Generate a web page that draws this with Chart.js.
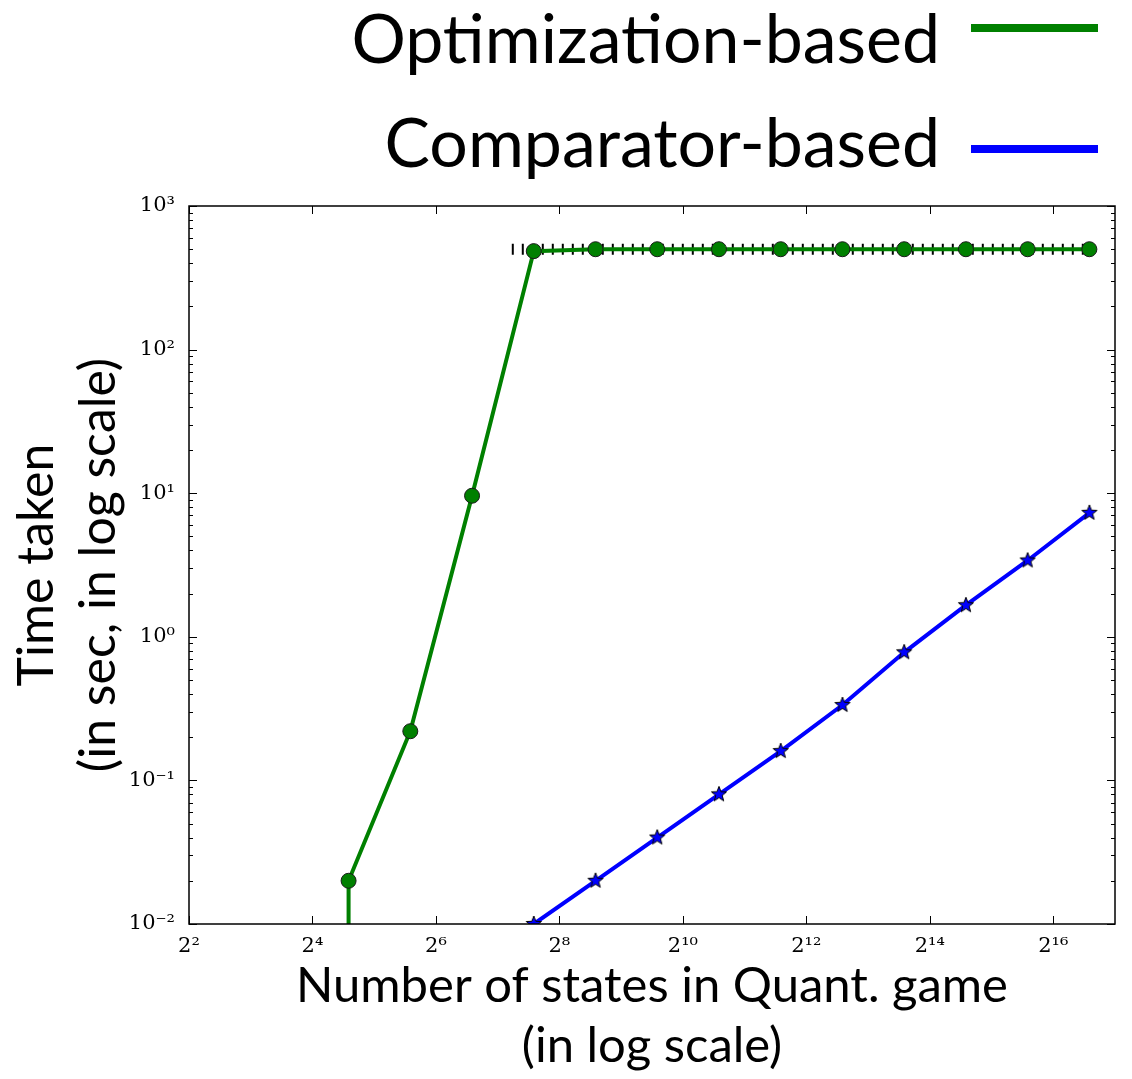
<!DOCTYPE html>
<html>
<head>
<meta charset="utf-8">
<script src="https://cdn.jsdelivr.net/npm/chart.js@4.4.1/dist/chart.umd.min.js"></script>
<style>
  html, body { margin: 0; padding: 0; background: #fff; }
  #wrap { position: relative; width: 1132px; height: 1079px; overflow: hidden; }
  #chart { position: absolute; left: 0; top: 0; }
  .leg { position: absolute; right: 192px; font-family: Lato, sans-serif; font-size: 68px; line-height: 68px; color: #000; white-space: nowrap; }
  .swatch { position: absolute; left: 971px; width: 127px; height: 8px; }
</style>
</head>
<body>
<div id="wrap">
  <canvas id="chart" width="1132" height="1079"></canvas>
  <div class="leg" style="top:3px">Optimization-based</div>
  <div class="swatch" style="top:24px;background:#008000"></div>
  <div class="leg" style="top:107px">Comparator-based</div>
  <div class="swatch" style="top:145px;background:#0000ff"></div>
</div>
<script>
// data
const optStates = [24, 24, 48, 96, 192, 384, 768, 1536, 3072, 6144, 12288, 24576, 49152, 98304];
const optTimes = [0.001, 0.02, 0.22, 9.6, 485, 500, 500, 500, 500, 500, 500, 500, 500, 500];
const compStates = [192, 384, 768, 1536, 3072, 6144, 12288, 24576, 49152, 98304];
const compTimes = [0.01, 0.02, 0.04, 0.08, 0.16, 0.335, 0.78, 1.66, 3.4, 7.3];
// black dashed timeout band behind the green line
const timeoutStates = [150, 98304];
const timeoutTimes = [500, 500];

const xTicks = [4, 16, 64, 256, 1024, 4096, 16384, 65536];
const xTickLabels = ["2²", "2⁴", "2⁶", "2⁸", "2¹⁰", "2¹²", "2¹⁴", "2¹⁶"];
const yTicks = [0.01, 0.1, 1, 10, 100, 1000];
const yTickLabels = ["10⁻²", "10⁻¹", "10⁰", "10¹", "10²", "10³"];
const yMinorSteps = [2, 3, 4, 5, 6, 7, 8, 9];

function toPoints(xs, ys) {
  return xs.map((v, i) => ({ x: v, y: ys[i] }));
}

// filled 5-point star marker like matplotlib's '*'
function makeStar(r, fill) {
  const c = document.createElement("canvas");
  const s = Math.ceil(r * 2 + 4);
  c.width = s;
  c.height = s;
  const g = c.getContext("2d");
  g.beginPath();
  for (let i = 0; i < 10; i++) {
    const rr = i % 2 ? r * 0.42 : r;
    const a = -Math.PI / 2 + i * Math.PI / 5;
    g.lineTo(s / 2 + rr * Math.cos(a), s / 2 + rr * Math.sin(a));
  }
  g.closePath();
  g.fillStyle = fill;
  g.fill();
  g.strokeStyle = "#000";
  g.lineWidth = 1;
  g.stroke();
  return c;
}

// inward ticks on all four sides + the axes frame
const framePlugin = {
  id: "frame",
  afterDraw(chart) {
    const { ctx, chartArea: a, scales } = chart;
    const x = scales.x, y = scales.y;
    ctx.save();
    ctx.strokeStyle = "#000";
    ctx.lineWidth = 1;
    const seg = (x1, y1, x2, y2) => {
      ctx.beginPath();
      ctx.moveTo(x1, y1);
      ctx.lineTo(x2, y2);
      ctx.stroke();
    };
    x.ticks.forEach(t => {
      const px = Math.round(x.getPixelForValue(t.value)) + 0.5;
      seg(px, a.bottom, px, a.bottom - 8);
      seg(px, a.top, px, a.top + 8);
    });
    y.ticks.forEach(t => {
      const major = yTicks.includes(t.value);
      const len = major ? 8 : 4;
      const py = Math.round(y.getPixelForValue(t.value)) + 0.5;
      seg(a.left, py, a.left + len, py);
      seg(a.right, py, a.right - len, py);
    });
    ctx.lineWidth = 1.5;
    ctx.strokeRect(a.left, a.top, a.right - a.left, a.bottom - a.top);
    ctx.restore();
  }
};

const tickFont = { family: "'DejaVu Serif', serif", size: 21 };

new Chart(document.getElementById("chart"), {
  type: "line",
  data: {
    datasets: [
      {
        label: "Optimization-based",
        data: toPoints(optStates, optTimes),
        borderColor: "#008000",
        backgroundColor: "#008000",
        borderWidth: 4,
        pointRadius: optTimes.map((v, i) => (i === 0 ? 0 : 7.5)),
        pointBorderColor: "#1a1a1a",
        pointBorderWidth: 1,
        tension: 0,
        order: 1
      },
      {
        label: "Comparator-based",
        data: toPoints(compStates, compTimes),
        borderColor: "#0000ff",
        backgroundColor: "#0000ff",
        borderWidth: 4,
        pointStyle: makeStar(8, "#0000ff"),
        tension: 0,
        order: 2
      },
      {
        label: "timeout",
        data: toPoints(timeoutStates, timeoutTimes),
        borderColor: "#000",
        borderWidth: 11,
        borderDash: [2, 8],
        borderCapStyle: "butt",
        pointRadius: 0,
        order: 5
      }
    ]
  },
  options: {
    responsive: false,
    animation: false,
    layout: { padding: { top: 206, right: 17, left: 0, bottom: 0 } },
    plugins: {
      legend: { display: false },
      tooltip: { enabled: false }
    },
    scales: {
      x: {
        type: "logarithmic",
        min: 4,
        max: 131072,
        afterFit: s => { s.height = 155; },
        afterBuildTicks: s => { s.ticks = xTicks.map(v => ({ value: v })); },
        grid: { display: false },
        border: { display: false },
        ticks: {
          autoSkip: false,
          maxRotation: 0,
          padding: 2,
          color: "#000",
          font: tickFont,
          callback: v => {
            const i = xTicks.indexOf(v);
            return i < 0 ? "" : xTickLabels[i];
          }
        },
        title: {
          display: true,
          text: ["Number of states in Quant. game", "(in log scale)"],
          color: "#000",
          font: { family: "Lato, sans-serif", size: 49, lineHeight: 1.24 },
          padding: { top: 0, bottom: 2 }
        }
      },
      y: {
        type: "logarithmic",
        min: 0.01,
        max: 1000,
        afterFit: s => { s.width = 189; },
        afterBuildTicks: s => {
          const list = [];
          yTicks.forEach((v, i) => {
            list.push({ value: v });
            if (i < yTicks.length - 1) yMinorSteps.forEach(m => list.push({ value: v * m }));
          });
          s.ticks = list;
        },
        grid: { display: false },
        border: { display: false },
        ticks: {
          autoSkip: false,
          padding: 6,
          color: "#000",
          font: tickFont,
          callback: v => {
            const i = yTicks.indexOf(v);
            return i < 0 ? "" : yTickLabels[i];
          }
        },
        title: {
          display: true,
          text: ["Time taken", "(in sec, in log scale)"],
          color: "#000",
          font: { family: "Lato, sans-serif", size: 50, lineHeight: 1.24 },
          padding: { top: 6, bottom: 0 }
        }
      }
    }
  },
  plugins: [framePlugin]
});
</script>
</body>
</html>
